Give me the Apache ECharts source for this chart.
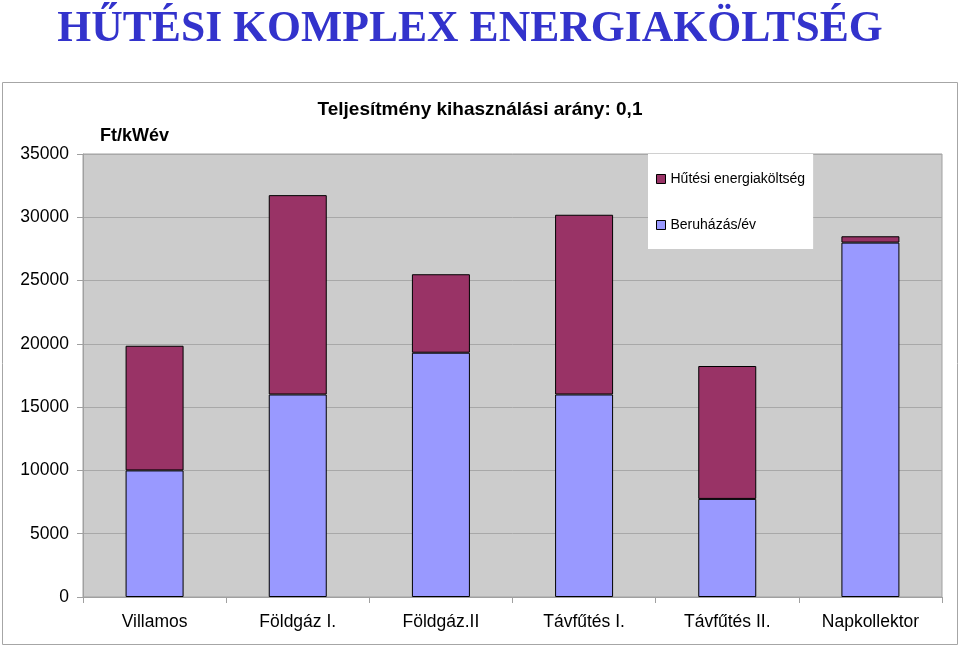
<!DOCTYPE html>
<html><head><meta charset="utf-8">
<script src="https://cdn.jsdelivr.net/npm/echarts@6/dist/echarts.min.js"></script>
<style>html,body{margin:0;padding:0;background:#fff}#c{width:960px;height:648px}</style>
</head><body><div id="c"></div>
<script>
const categories = ['Villamos', 'Földgáz I.', 'Földgáz.II', 'Távfűtés I.', 'Távfűtés II.', 'Napkollektor'];
const beruhazas = [10000, 16000, 19300, 16000, 7750, 28000];
const hutesi = [9850, 15750, 6200, 14200, 10500, 500];
const yTicks = [0, 5000, 10000, 15000, 20000, 25000, 30000, 35000];

const chart = echarts.init(document.getElementById('c'), null, {renderer: 'canvas'});
const font = 'Arial, "Liberation Sans", sans-serif';
chart.setOption({
  animation: false,
  backgroundColor: '#fff',
  graphic: [
    {type: 'rect', shape: {x: 2.5, y: 82.5, width: 955, height: 562}, style: {fill: '#fff', stroke: '#a6a6a6', lineWidth: 1}, z: -10},
    {type: 'text', x: 470, y: 29, scaleX: 0.97, style: {text: 'HŰTÉSI KOMPLEX ENERGIAKÖLTSÉG', font: 'bold 45px "Liberation Serif", serif', fill: '#3333cc', align: 'center', verticalAlign: 'middle'}},
    {type: 'text', x: 480, y: 110, style: {text: 'Teljesítmény kihasználási arány: 0,1', font: 'bold 19px ' + font, fill: '#000', align: 'center', verticalAlign: 'middle'}},
    {type: 'text', x: 100, y: 136, style: {text: 'Ft/kWév', font: 'bold 18px ' + font, fill: '#000', align: 'left', verticalAlign: 'middle'}}
  ],
  grid: {left: 83, right: 18, top: 154, bottom: 51, show: true, backgroundColor: '#cccccc', borderColor: '#a0a0a0', borderWidth: 1},
  legend: {
    left: 648, top: 154, orient: 'vertical', backgroundColor: '#fff',
    padding: [18, 8, 17, 8], itemGap: 32, itemWidth: 9, itemHeight: 9, icon: 'rect',
    textStyle: {fontFamily: font, fontSize: 14, color: '#000'},
    data: [
      {name: 'Hűtési energiaköltség', itemStyle: {color: '#993366', borderColor: '#000', borderWidth: 1}},
      {name: 'Beruházás/év', itemStyle: {color: '#9999ff', borderColor: '#000', borderWidth: 1}}
    ]
  },
  xAxis: {
    type: 'category', data: categories, boundaryGap: true,
    axisLine: {lineStyle: {color: '#a0a0a0'}},
    axisTick: {show: true, length: 6, lineStyle: {color: '#a0a0a0'}},
    axisLabel: {fontFamily: font, fontSize: 17.5, color: '#000', margin: 16}
  },
  yAxis: {
    type: 'value', min: 0, max: 35000, interval: 5000,
    axisLine: {show: true, lineStyle: {color: '#a0a0a0'}},
    axisTick: {show: true, length: 6, lineStyle: {color: '#a0a0a0'}},
    splitLine: {show: true, lineStyle: {color: '#a8a8a8', width: 1}},
    axisLabel: {fontFamily: font, fontSize: 17.5, color: '#000', margin: 14,
      formatter: v => yTicks.includes(v) ? String(v) : ''}
  },
  series: [
    {name: 'Beruházás/év', type: 'bar', stack: 't', data: beruhazas, barWidth: 58,
      itemStyle: {color: '#9999ff', borderColor: '#000', borderWidth: 1}},
    {name: 'Hűtési energiaköltség', type: 'bar', stack: 't', data: hutesi, barWidth: 58,
      itemStyle: {color: '#993366', borderColor: '#000', borderWidth: 1}}
  ]
});
</script></body></html>
